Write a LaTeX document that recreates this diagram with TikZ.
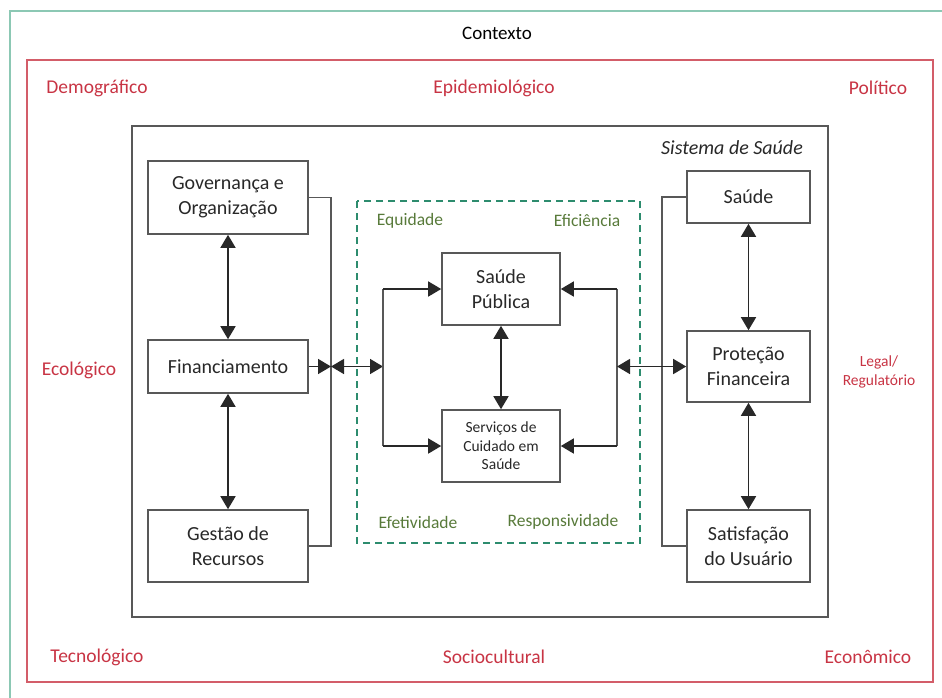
\documentclass[tikz,border=0pt]{standalone}
\usepackage{fontspec}
\setmainfont{Carlito}
\usetikzlibrary{arrows.meta}

\definecolor{ctxred}{RGB}{200,52,68}
\definecolor{boxgray}{RGB}{88,88,88}
\definecolor{arrowgray}{RGB}{40,40,40}
\definecolor{txtgray}{RGB}{40,40,40}
\definecolor{goalgreen}{RGB}{88,122,58}
\definecolor{dashteal}{RGB}{45,140,110}
\definecolor{frameteal}{RGB}{140,200,180}

\begin{document}
\begin{tikzpicture}[x=1pt,y=-1pt,
  blk/.style={draw=boxgray, line width=1.6pt, text=txtgray, align=center,
    font=\fontsize{20}{25}\selectfont, inner sep=0pt},
  smallblk/.style={blk, font=\fontsize{15.5}{18.5}\selectfont},
  ctx/.style={text=ctxred, font=\fontsize{19.5}{24}\selectfont, inner sep=0pt},
  goal/.style={text=goalgreen, font=\fontsize{17.5}{21}\selectfont, inner sep=0pt},
  link/.style={draw=boxgray, line width=1.5pt},
  tip/.tip={Triangle[length=13pt,width=15pt]},
  arr/.style={draw=arrowgray, line width=1.6pt, -tip},
  dbl/.style={draw=arrowgray, line width=1.6pt, tip-tip}
]
\useasboundingbox (0,0) rectangle (942,697);

% outer frame and context frame
\draw[frameteal, line width=1.5pt] (10,11) rectangle (980,740);
\draw[ctxred!80, line width=1.6pt] (27,60) rectangle (933,682);

\node[font=\fontsize{19}{23}\selectfont, inner sep=0pt] (contexto) at (497,33) {Contexto};

% context factors
\node[ctx] (demo) at (97,88) {Demográfico};
\node[ctx] (epid) at (494,88) {Epidemiológico};
\node[ctx] (poli) at (878,88) {Político};
\node[ctx] (ecol) at (79,370) {Ecológico};
\node[ctx, align=center, font=\fontsize{15.5}{19}\selectfont] (legal) at (879,372) {Legal/\\Regulatório};
\node[ctx] (tecn) at (97,657) {Tecnológico};
\node[ctx] (soci) at (494,657) {Sociocultural};
\node[ctx] (econ) at (868,657) {Econômico};

% health system frame
\draw[boxgray, line width=1.6pt] (132,126) rectangle (828,617);
\node[text=txtgray, font=\fontsize{20}{24}\selectfont\itshape, inner sep=0pt] (sistema) at (732,148) {Sistema de Saúde};

% goals frame
\draw[dashteal, line width=1.5pt, dash pattern=on 7pt off 5pt] (357,201) rectangle (640,543);
\node[goal] (equi) at (410,221) {Equidade};
\node[goal] (efic) at (587,221) {Eficiência};
\node[goal] (efet) at (418,522) {Efetividade};
\node[goal] (resp) at (563,522) {Responsividade};

% building blocks
\node[blk, minimum width=160pt, minimum height=73pt] (gov) at (228,197.5) {Governança e\\Organização};
\node[blk, minimum width=160pt, minimum height=53pt] (fin) at (228,366.5) {Financiamento};
\node[blk, minimum width=160pt, minimum height=72pt] (gest) at (228,546) {Gestão de\\Recursos};

\node[blk, minimum width=118pt, minimum height=72pt] (sp) at (501,289) {Saúde\\Pública};
\node[smallblk, minimum width=118pt, minimum height=72pt] (serv) at (501,446) {Serviços de\\Cuidado em\\Saúde};

\node[blk, minimum width=123pt, minimum height=52pt] (saude) at (748.5,197) {Saúde};
\node[blk, minimum width=123pt, minimum height=71pt] (prot) at (748.5,366.5) {Proteção\\Financeira};
\node[blk, minimum width=123pt, minimum height=72pt] (sat) at (748.5,546) {Satisfação\\do Usuário};

% bracket positions
\coordinate (obar) at (331,0);
\coordinate (lbar) at (383,0);
\coordinate (rin) at (617,0);
\coordinate (rbar) at (662,0);

% left column
\draw[dbl] (gov.south) -- (fin.north);
\draw[dbl] (fin.south) -- (gest.north);
\draw[link] (gov.east) -| (gest.east -| obar) -- (gest.east);
\draw[arr] (fin.east) -- (fin.east -| obar);
\draw[dbl] (fin.east -| obar) -- (fin.east -| lbar);

% centre
\draw[link] (sp.west -| lbar) -- (serv.west -| lbar);
\draw[arr] (sp.west -| lbar) -- (sp.west);
\draw[arr] (serv.west -| lbar) -- (serv.west);
\draw[dbl] (sp.south) -- (serv.north);
\draw[link] (sp.east -| rin) -- (serv.east -| rin);
\draw[arr] (sp.east -| rin) -- (sp.east);
\draw[arr] (serv.east -| rin) -- (serv.east);

% right column
\draw[link] (saude.west) -| (sat.west -| rbar) -- (sat.west);
\draw[dbl] (prot.west -| rin) -- (prot.west);
\draw[dbl] (saude.south) -- (prot.north);
\draw[dbl] (prot.south) -- (sat.north);
\end{tikzpicture}
\end{document}
